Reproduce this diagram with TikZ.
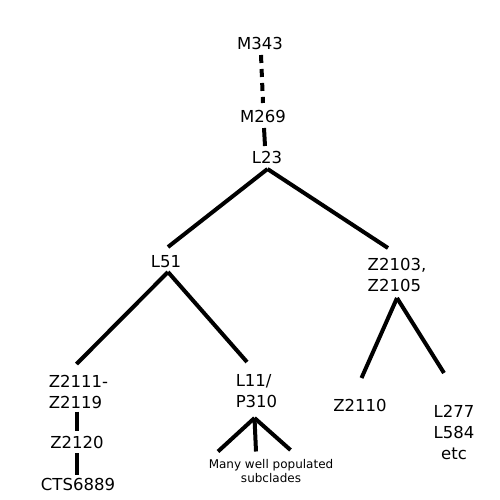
\documentclass[tikz,border=0pt]{standalone}
\usepackage{fontspec}
\setmainfont{DejaVu Sans}
\usetikzlibrary{positioning}

\begin{document}
\begin{tikzpicture}[x=1pt, y=-1pt, line width=4pt,
    clade/.style={font=\fontsize{16.5}{21}\selectfont, inner sep=0pt},
    cladeleft/.style={clade, align=left},
    tiny/.style={font=\fontsize{12}{14}\selectfont, align=center}]
    \useasboundingbox (0,0) rectangle (500,500);

    % Nodes
    \node[clade] (m343) at (260,43) {M343};
    \node[clade] (m269) at (263,116) {M269};
    \node[clade] (l23) at (267,157) {L23};
    \node[clade] (l51) at (166,262) {L51};
    \node[cladeleft] (z2103) at (397,275) {Z2103,\\Z2105};
    \node[cladeleft] (z2111) at (78.5,391.5) {Z2111-\\Z2119};
    \node[cladeleft] (l11) at (256.5,391.5) {L11/\\P310};
    \node[clade] (z2120) at (77,442) {Z2120};
    \node[clade] (cts6889) at (78,484) {CTS6889};
    \node[clade] (z2110) at (360,405) {Z2110};
    \node[clade, align=center] (l277) at (454,432) {L277\\L584\\etc};
    \node[tiny] (many) at (271,471) {Many well populated\\subclades};

    % Free ends under L11/P310
    \coordinate (sub1) at (218,451.5);
    \coordinate (sub2) at (256,451.5);
    \coordinate (sub3) at (290.5,450);

    % Branches
    \draw[dash pattern=on 8pt off 6pt] ([shift={(1,12)}]m343.center) -- ([shift={(0,-13)}]m269.center);
    \draw ([shift={(1,12)}]m269.center) -- ([shift={(-2,-11)}]l23.center);
    \draw ([shift={(0.5,12)}]l23.center) -- ([shift={(2,-15)}]l51.center);
    \draw ([shift={(0.5,12)}]l23.center) -- ([shift={(-9,-27)}]z2103.center);
    \draw ([shift={(2,10)}]l51.center) -- ([shift={(-2,-27.5)}]z2111.center);
    \draw ([shift={(2,10)}]l51.center) -- ([shift={(-9.5,-29.5)}]l11.center);
    \draw ([shift={(0,23)}]z2103.center) -- ([shift={(1.5,-27)}]z2110.center);
    \draw ([shift={(0,23)}]z2103.center) -- ([shift={(-10,-59)}]l277.center);
    \draw ([shift={(-1.5,20)}]z2111.center) -- ([shift={(0,-11)}]z2120.center);
    \draw ([shift={(0,11)}]z2120.center) -- ([shift={(-1,-9)}]cts6889.center);
    \draw ([shift={(-2,26.5)}]l11.center) -- (sub1);
    \draw ([shift={(-2,26.5)}]l11.center) -- (sub2);
    \draw ([shift={(-2,26.5)}]l11.center) -- (sub3);
\end{tikzpicture}
\end{document}
